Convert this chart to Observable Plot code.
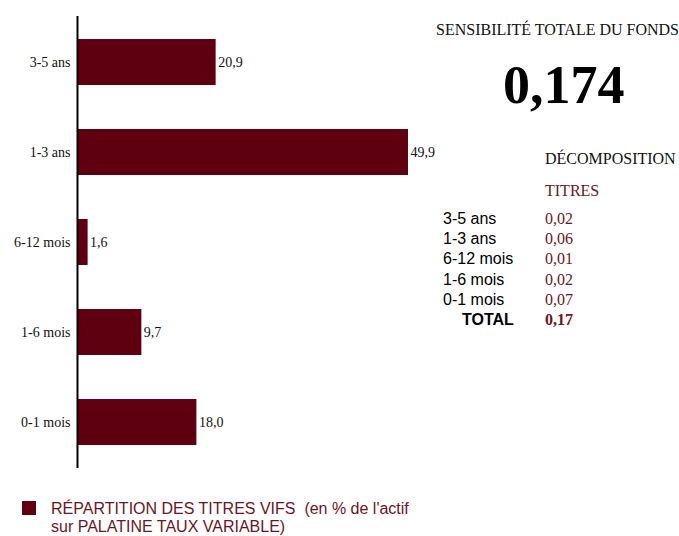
<!DOCTYPE html>
<html>
<head>
<meta charset="utf-8">
<script src="https://cdn.jsdelivr.net/npm/d3@7"></script>
<script src="https://cdn.jsdelivr.net/npm/@observablehq/plot@0.6"></script>
<style>
  body { margin: 0; background: #fff; width: 679px; height: 536px; overflow: hidden; position: relative; }
  #chart { position: absolute; left: 0; top: 0; }
  .serif { font-family: "Liberation Serif", "Times New Roman", serif; }
  .sans { font-family: "Liberation Sans", Arial, sans-serif; }
  .abs { position: absolute; white-space: pre; }
  #table { position: absolute; left: 443px; top: 209px; border-collapse: collapse; }
  #table td { padding: 0; height: 20.2px; line-height: 20.2px; font-size: 16px; }
  #legend { position: absolute; left: 22px; top: 500px; }
</style>
</head>
<body>
<div id="chart"></div>
<div class="abs serif" style="left:436px; top:20px; font-size:16px; line-height:20px; color:#111;" id="t1"></div>
<div class="abs serif" style="left:503px; top:54px; font-size:54px; line-height:62px; font-weight:bold; color:#000;" id="t2"></div>
<div class="abs serif" style="left:545px; top:149px; font-size:16px; line-height:20px; color:#111;" id="t3"></div>
<div class="abs serif" style="left:545px; top:181px; font-size:16px; line-height:20px; color:#6b1624;" id="t4"></div>
<table id="table"></table>
<div id="legend"></div>
<script>
// ---- data ----
const categories = ["3-5 ans", "1-3 ans", "6-12 mois", "1-6 mois", "0-1 mois"];
const repartition = [20.9, 49.9, 1.6, 9.7, 18.0];
const sensibiliteTotale = "0,174";
const decompLabels = ["3-5 ans", "1-3 ans", "6-12 mois", "1-6 mois", "0-1 mois"];
const decompTitres = ["0,02", "0,06", "0,01", "0,02", "0,07"];
const totalTitres = "0,17";
const titleText = "SENSIBILITÉ TOTALE DU FONDS";
const decompText = "DÉCOMPOSITION";
const titresText = "TITRES";
const legendLine1 = "RÉPARTITION DES TITRES VIFS  (en % de l'actif";
const legendLine2 = "sur PALATINE TAUX VARIABLE)";

const barColor = "#5f0010";
const textMaroon = "#6b1624";

const data = categories.map((c, i) => ({cat: c, v: repartition[i]}));
const fmt = v => v.toFixed(1).replace(".", ",");

const plot = Plot.plot({
  width: 679,
  height: 475,
  marginLeft: 77,
  marginRight: 204,
  marginTop: 16,
  marginBottom: 7,
  style: {fontFamily: "'Liberation Serif', 'Times New Roman', serif", fontSize: "14px", color: "#111", background: "transparent"},
  x: {domain: [0, 60], axis: null},
  y: {domain: categories, paddingInner: 0.49, paddingOuter: 0.245, label: null},
  marks: [
    Plot.barX(data, {x: "v", y: "cat", fill: barColor}),
    Plot.text(data, {x: "v", y: "cat", text: d => fmt(d.v), textAnchor: "start", dx: 2, fontSize: 14, fill: "#111"}),
    Plot.axisY({tickSize: 0, tickPadding: 7, fontSize: 14, label: null}),
    Plot.ruleX([0], {stroke: "#000", strokeWidth: 2})
  ]
});
document.getElementById("chart").appendChild(plot);

document.getElementById("t1").textContent = titleText;
document.getElementById("t2").textContent = sensibiliteTotale;
document.getElementById("t3").textContent = decompText;
document.getElementById("t4").textContent = titresText;

const table = document.getElementById("table");
decompLabels.forEach((lab, i) => {
  const tr = document.createElement("tr");
  const td1 = document.createElement("td");
  td1.className = "sans"; td1.textContent = lab; td1.style.width = "102px"; td1.style.color = "#000";
  const td2 = document.createElement("td");
  td2.className = "serif"; td2.textContent = decompTitres[i]; td2.style.color = textMaroon;
  tr.appendChild(td1); tr.appendChild(td2); table.appendChild(tr);
});
{
  const tr = document.createElement("tr");
  const td1 = document.createElement("td");
  td1.className = "sans"; td1.textContent = "TOTAL"; td1.style.fontWeight = "bold";
  td1.style.paddingLeft = "19px"; td1.style.color = "#000";
  const td2 = document.createElement("td");
  td2.className = "serif"; td2.textContent = totalTitres; td2.style.fontWeight = "bold"; td2.style.color = textMaroon;
  tr.appendChild(td1); tr.appendChild(td2); table.appendChild(tr);
}

const legend = document.getElementById("legend");
legend.innerHTML = `<div style="position:absolute;left:0;top:1px;width:14px;height:14px;background:${barColor}"></div>
<div class="sans" style="position:absolute;left:29px;top:0;font-size:16px;line-height:18px;color:${textMaroon};white-space:pre;"></div>`;
legend.lastElementChild.textContent = legendLine1 + "\n" + legendLine2;
</script>
</body>
</html>
